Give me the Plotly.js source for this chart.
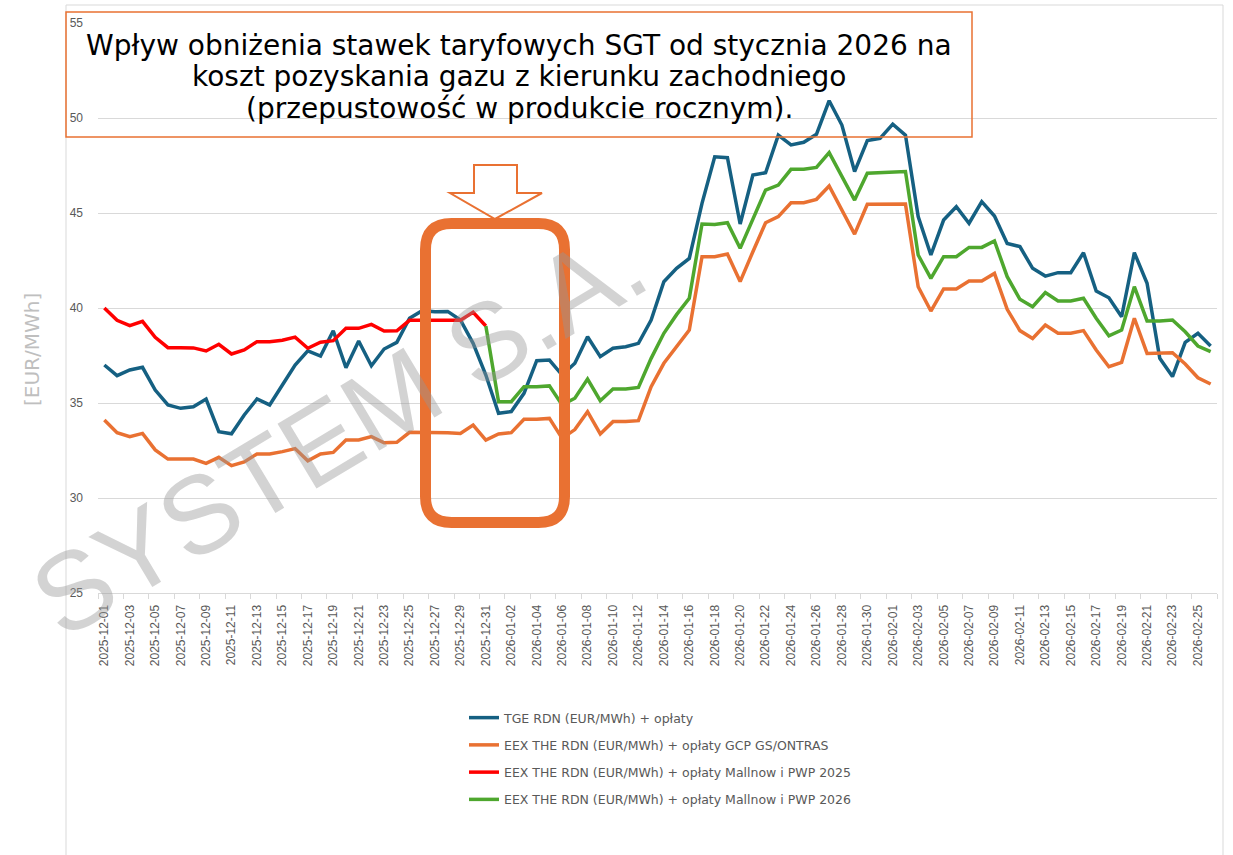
<!DOCTYPE html>
<html>
<head>
<meta charset="utf-8">
<script src="https://cdn.plot.ly/plotly-3.0.1.min.js"></script>
<style>
html,body{margin:0;padding:0;background:#fff;}
#chart{width:1233px;height:855px;}
</style>
</head>
<body>
<div id="chart"></div>
<script>
const dates = [
 '2025-12-01','2025-12-02','2025-12-03','2025-12-04','2025-12-05','2025-12-06','2025-12-07','2025-12-08','2025-12-09','2025-12-10',
 '2025-12-11','2025-12-12','2025-12-13','2025-12-14','2025-12-15','2025-12-16','2025-12-17','2025-12-18','2025-12-19','2025-12-20',
 '2025-12-21','2025-12-22','2025-12-23','2025-12-24','2025-12-25','2025-12-26','2025-12-27','2025-12-28','2025-12-29','2025-12-30',
 '2025-12-31','2026-01-01','2026-01-02','2026-01-03','2026-01-04','2026-01-05','2026-01-06','2026-01-07','2026-01-08','2026-01-09',
 '2026-01-10','2026-01-11','2026-01-12','2026-01-13','2026-01-14','2026-01-15','2026-01-16','2026-01-17','2026-01-18','2026-01-19',
 '2026-01-20','2026-01-21','2026-01-22','2026-01-23','2026-01-24','2026-01-25','2026-01-26','2026-01-27','2026-01-28','2026-01-29',
 '2026-01-30','2026-01-31','2026-02-01','2026-02-02','2026-02-03','2026-02-04','2026-02-05','2026-02-06','2026-02-07','2026-02-08',
 '2026-02-09','2026-02-10','2026-02-11','2026-02-12','2026-02-13','2026-02-14','2026-02-15','2026-02-16','2026-02-17','2026-02-18',
 '2026-02-19','2026-02-20','2026-02-21','2026-02-22','2026-02-23','2026-02-24','2026-02-25','2026-02-26'
];

const tgeRdn = [
 37.0, 36.44, 36.74, 36.88, 35.68, 34.9, 34.72, 34.8, 35.21, 33.49,
 33.38, 34.37, 35.21, 34.9, 35.95, 37.0, 37.74, 37.47, 38.8, 36.86,
 38.26, 36.96, 37.84, 38.19, 39.46, 39.86, 39.8, 39.82, 39.37, 38.14,
 36.47, 34.46, 34.55, 35.51, 37.23, 37.26, 36.47, 37.09, 38.49, 37.44,
 37.88, 37.96, 38.14, 39.37, 41.38, 42.09, 42.61, 45.51, 47.96, 47.91,
 44.42, 47.0, 47.12, 49.1, 48.58, 48.72, 49.14, 50.91, 49.63, 47.18,
 48.81, 48.93, 49.68, 49.1, 44.81, 42.79, 44.63, 45.33, 44.46, 45.6,
 44.84, 43.4, 43.23, 42.09, 41.68, 41.86, 41.86, 42.91, 40.89, 40.54,
 39.54, 42.91, 41.3, 37.35, 36.39, 38.19, 38.67, 38.0
];

const eexGcp = [
 34.1, 33.44, 33.23, 33.4, 32.53, 32.05, 32.05, 32.05, 31.82, 32.14,
 31.7, 31.9, 32.32, 32.32, 32.44, 32.6, 31.96, 32.32, 32.4, 33.05,
 33.05, 33.23, 32.91, 32.93, 33.46, 33.46, 33.46, 33.44, 33.4, 33.84,
 33.05, 33.37, 33.44, 34.14, 34.14, 34.19, 33.14, 33.6, 34.54, 33.37,
 34.02, 34.02, 34.07, 35.86, 37.09, 37.96, 38.84, 42.7, 42.7, 42.84,
 41.39, 42.96, 44.49, 44.81, 45.54, 45.54, 45.72, 46.42, 45.16, 43.89,
 45.46, 45.46, 45.46, 45.47, 41.12, 39.84, 41.0, 41.0, 41.42, 41.42,
 41.82, 39.93, 38.81, 38.4, 39.1, 38.67, 38.67, 38.81, 37.79, 36.91,
 37.14, 39.46, 37.61, 37.61, 37.65, 37.05, 36.33, 36.0
];

// Dec 2025 only (2025-12-01 .. 2025-12-31)
const eexMallnow2025 = [
 40.0, 39.35, 39.07, 39.3, 38.46, 37.91, 37.91, 37.9, 37.74, 38.09,
 37.58, 37.79, 38.23, 38.23, 38.3, 38.47, 37.88, 38.2, 38.28, 38.93,
 38.93, 39.14, 38.79, 38.8, 39.35, 39.35, 39.35, 39.35, 39.35, 39.77,
 39.05
];

// from 2025-12-31 .. 2026-02-26
const eexMallnow2026 = [
 39.05, 35.07, 35.07, 35.86, 35.86, 35.9, 34.9, 35.25, 36.26, 35.12,
 35.74, 35.74, 35.82, 37.35, 38.67, 39.65, 40.51, 44.42, 44.4, 44.49,
 43.14, 44.72, 46.21, 46.47, 47.3, 47.3, 47.4, 48.18, 46.91, 45.68,
 47.09, 47.12, 47.12, 47.18, 42.79, 41.56, 42.7, 42.7, 43.19, 43.19,
 43.53, 41.65, 40.46, 40.07, 40.81, 40.37, 40.37, 40.51, 39.46, 38.54,
 38.84, 41.12, 39.32, 39.32, 39.37, 38.75, 38.0, 37.7
];

const seriesNames = [
 'TGE RDN (EUR/MWh) + opłaty',
 'EEX THE RDN (EUR/MWh) + opłaty GCP GS/ONTRAS',
 'EEX THE RDN (EUR/MWh) + opłaty Mallnow i PWP 2025',
 'EEX THE RDN (EUR/MWh) + opłaty Mallnow i PWP 2026'
];
const titleLines = [
 'Wpływ obniżenia stawek taryfowych SGT od stycznia 2026 na',
 'koszt pozyskania gazu z kierunku zachodniego',
 '(przepustowość w produkcie rocznym).'
];
const yTitle = '[EUR/MWh]';
const watermark = 'SYSTEM S.A.';

const colors = ['#156082', '#E97132', '#FF0000', '#4EA72E'];
const accent = '#E97132';

// pixel -> paper helpers (plot area: x 98..1217, y 23..593)
const L = 98, R = 1217, T = 23, B = 593;
const px = X => (X - L) / (R - L);
const py = Y => (B - Y) / (B - T);

const lineW = 3.5;
const traces = [
 {x: dates, y: tgeRdn, name: seriesNames[0], legendgroup: 'a'},
 {x: dates, y: eexGcp, name: seriesNames[1], legendgroup: 'b'},
 {x: dates.slice(0, eexMallnow2025.length), y: eexMallnow2025, name: seriesNames[2], legendgroup: 'c'},
 {x: dates.slice(dates.length - eexMallnow2026.length), y: eexMallnow2026, name: seriesNames[3], legendgroup: 'd'}
].map((t, i) => Object.assign(t, {
  type: 'scatter', mode: 'lines',
  line: {color: colors[i], width: lineW},
  hoverinfo: 'x+y'
}));

// rounded rectangle path in paper coords
function roundRect(x0, y0, x1, y1, r) {
  const P = (X, Y) => px(X) + ',' + py(Y);
  return 'M' + P(x0 + r, y0) + ' L' + P(x1 - r, y0) + ' Q' + P(x1, y0) + ' ' + P(x1, y0 + r) +
    ' L' + P(x1, y1 - r) + ' Q' + P(x1, y1) + ' ' + P(x1 - r, y1) +
    ' L' + P(x0 + r, y1) + ' Q' + P(x0, y1) + ' ' + P(x0, y1 - r) +
    ' L' + P(x0, y0 + r) + ' Q' + P(x0, y0) + ' ' + P(x0 + r, y0) + ' Z';
}
function poly(pts) {
  return 'M' + pts.map(p => px(p[0]) + ',' + py(p[1])).join(' L') + ' Z';
}

const shapes = [
  // outer chart frame
  {type: 'rect', xref: 'paper', yref: 'paper', x0: px(66), x1: px(1223), y0: py(5), y1: py(870),
   line: {color: '#d9d9d9', width: 1}, fillcolor: 'rgba(0,0,0,0)', layer: 'below'},
  // title box
  {type: 'rect', xref: 'paper', yref: 'paper', x0: px(66), x1: px(972), y0: py(12), y1: py(137),
   line: {color: accent, width: 1.5}, fillcolor: 'rgba(0,0,0,0)'},
  // arrow
  {type: 'path', xref: 'paper', yref: 'paper',
   path: poly([[474,165],[517,165],[517,193],[542,193],[495,219],[450,193],[474,193]]),
   line: {color: accent, width: 2}, fillcolor: 'rgba(255,255,255,0)'},
  // rounded highlight box
  {type: 'path', xref: 'paper', yref: 'paper',
   path: roundRect(425.5, 223.5, 564.5, 522.5, 26),
   line: {color: accent, width: 11}, fillcolor: 'rgba(0,0,0,0)'}
];

const annotations = [
  ...titleLines.map((t, i) => ({
    text: t, xref: 'paper', yref: 'paper', x: px(519), y: py([45, 77, 108][i]),
    xanchor: 'center', yanchor: 'middle', showarrow: false,
    font: {family: 'DejaVu Sans', size: 28, color: '#000'}
  })),
  {text: yTitle, xref: 'paper', yref: 'paper', x: px(32), y: py(350), textangle: -90,
   xanchor: 'center', yanchor: 'middle', showarrow: false,
   font: {family: 'DejaVu Sans', size: 20, color: '#bfbfbf'}},
  {text: watermark, xref: 'paper', yref: 'paper', x: px(338), y: py(430), textangle: -31,
   xanchor: 'center', yanchor: 'middle', showarrow: false,
   font: {family: 'Liberation Sans', size: 110, color: 'rgba(150,150,150,0.42)'}}
];

const layout = {
  width: 1233, height: 855,
  margin: {l: L, r: 1233 - R, t: T, b: 855 - B},
  paper_bgcolor: '#fff', plot_bgcolor: '#fff',
  showlegend: true,
  legend: {
    x: px(464), y: py(703), xanchor: 'left', yanchor: 'top',
    font: {family: 'DejaVu Sans', size: 12.5, color: '#595959'},
    tracegroupgap: 8, traceorder: 'grouped', bgcolor: 'rgba(0,0,0,0)'
  },
  xaxis: {
    type: 'date',
    range: ['2025-11-30 12:00', '2026-02-26 12:00'],
    tick0: '2025-12-01', dtick: 2 * 86400000,
    tickformat: '%Y-%m-%d', tickangle: -90,
    ticks: '', showgrid: false, zeroline: false,
    showline: true, linecolor: '#d9d9d9', linewidth: 1,
    tickfont: {family: 'Liberation Sans', size: 12, color: '#595959'},
    ticklabelstandoff: 6,
    minor: {ticks: 'outside', ticklen: 5, tickcolor: '#d9d9d9', tickwidth: 1,
            tick0: '2025-11-30 12:00', dtick: 2 * 86400000, showgrid: false}
  },
  yaxis: {
    range: [25, 55], dtick: 5, tick0: 25,
    showgrid: true, gridcolor: '#d9d9d9', gridwidth: 1,
    zeroline: false, showline: false, ticks: '',
    tickfont: {family: 'Liberation Sans', size: 12, color: '#595959'},
    ticklabelstandoff: 14
  },
  shapes: shapes,
  annotations: annotations
};

Plotly.newPlot('chart', traces, layout, {displayModeBar: false, staticPlot: true});
</script>
</body>
</html>
